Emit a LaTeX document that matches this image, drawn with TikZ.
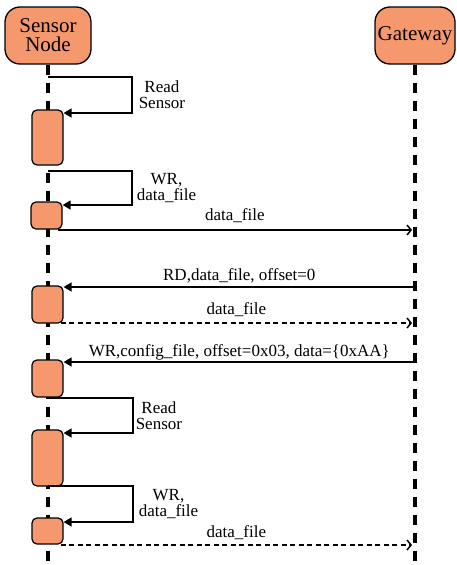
\documentclass[tikz,border=0pt]{standalone}
\usepackage{fontspec}
\setmainfont{Liberation Serif}
\usetikzlibrary{arrows.meta}
\definecolor{salmon}{RGB}{245,152,110}
\begin{document}
\begin{tikzpicture}[x=1pt,y=-1pt,
  part/.style={draw,line width=1.3pt,fill=salmon,rounded corners=15pt,minimum height=57pt,inner sep=0pt,align=center,font=\fontsize{21}{19}\selectfont},
  act/.style={draw,line width=1.2pt,fill=salmon,rounded corners=5pt,minimum width=31pt,inner sep=0pt},
  life/.style={line width=3.2pt,dash pattern=on 10pt off 8pt},
  msg/.style={line width=1.5pt,-{Triangle[length=8pt,width=9pt]}},
  async/.style={line width=1.5pt,-{Straight Barb[length=4pt,width=10pt]}},
  rmsg/.style={async,dash pattern=on 5pt off 3.5pt},
  lbl/.style={font=\fontsize{17}{16}\selectfont,align=center,inner sep=0pt},
  mlbl/.style={lbl,midway,anchor=base},
]
\useasboundingbox (0,0) rectangle (456,565);
% participants
\node[part,minimum width=86pt] (sn) at (48,35.5) {Sensor\\Node};
\node[part,minimum width=80pt] (gw) at (415,35.5) {Gateway};
% lifelines
\draw[life] (sn.south) -- (sn.south |- 0,564);
\draw[life] (gw.south) -- (gw.south |- 0,564);
\coordinate (gwl) at ([xshift=-3pt]gw.south);
% activations
\node[act,minimum height=55pt] (A1) at (47.5,137.5) {};
\node[act,minimum height=27pt] (A2) at (46.5,215.5) {};
\node[act,minimum height=37pt] (A3) at (47.5,304.5) {};
\node[act,minimum height=37pt] (A4) at (47.5,378.5) {};
\node[act,minimum height=56pt] (A5) at (47.5,458) {};
\node[act,minimum height=26pt] (A6) at (47.5,531) {};
% self messages
\draw[msg] (sn.south |- 0,77) -- ++(84,0) |- node[lbl,pos=0.25,right=6pt] (l1) {Read\\Sensor} (A1.east |- 0,113);
\draw[msg] (sn.south |- 0,171) -- ++(84,0) |- node[lbl,pos=0.25,right=4pt] (l2) {WR,\\data\_file} (A2.east |- 0,205);
\draw[msg] (sn.south |- 0,398) -- ++(85,0) |- node[lbl,pos=0.25,right=2pt] (l3) {Read\\Sensor} (A5.east |- 0,433);
\draw[msg] (sn.south |- 0,486) -- ++(85,0) |- node[lbl,pos=0.25,right=5pt] (l4) {WR,\\data\_file} (A6.east |- 0,522);
% messages
\draw[async] ([xshift=-5pt]A2.south east |- 0,230) -- node[mlbl,yshift=10pt] (l5) {data\_file} (gwl |- 0,230);
\draw[msg] (gw.south |- 0,287) -- node[mlbl,yshift=7pt] (l6) {RD,data\_file, offset=0} (A3.east |- 0,287);
\draw[rmsg] ([xshift=-3pt]A3.south east |- 0,323) -- node[mlbl,yshift=9pt] (l7) {data\_file} (gwl |- 0,323);
\draw[msg] (gw.south |- 0,362) -- node[mlbl,yshift=6pt] (l8) {WR,config\_file, offset=0x03, data=\{0xAA\}} (A4.east |- 0,362);
\draw[rmsg] ([xshift=-3pt]A6.south east |- 0,545) -- node[mlbl,yshift=8pt] (l9) {data\_file} (gwl |- 0,545);
\end{tikzpicture}
\end{document}
